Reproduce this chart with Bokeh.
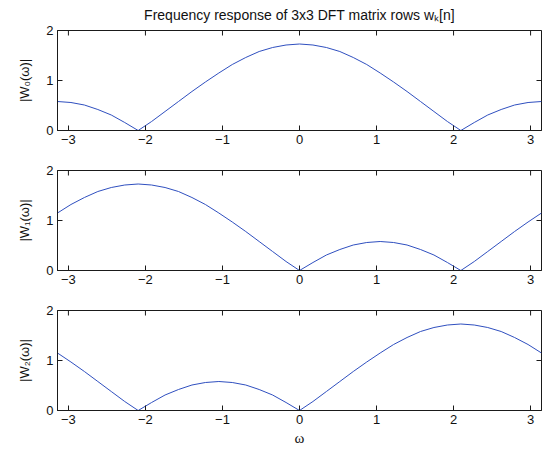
import numpy as np
from bokeh.plotting import figure
from bokeh.layouts import column
from bokeh.models import Range1d, FixedTicker
from bokeh.embed import file_html
from bokeh.resources import INLINE

# ---- data ----
omega = [-3.1416, -2.9671, -2.7925, -2.6180, -2.4435, -2.2689, -2.0944, -1.9199,
         -1.7453, -1.5708, -1.3963, -1.2217, -1.0472, -0.8727, -0.6981, -0.5236,
         -0.3491, -0.1745, 0.0, 0.1745, 0.3491, 0.5236, 0.6981, 0.8727, 1.0472,
         1.2217, 1.3963, 1.5708, 1.7453, 1.9199, 2.0944, 2.2689, 2.4435, 2.6180,
         2.7925, 2.9671, 3.1416]
W0 = [0.58, 0.56, 0.51, 0.42, 0.31, 0.16, 0.00, 0.18, 0.38, 0.58, 0.78, 0.97,
      1.15, 1.32, 1.46, 1.58, 1.66, 1.71, 1.73, 1.71, 1.66, 1.58, 1.46, 1.32,
      1.15, 0.97, 0.78, 0.58, 0.38, 0.18, 0.00, 0.16, 0.31, 0.42, 0.51, 0.56, 0.58]
W1 = [1.15, 1.32, 1.46, 1.58, 1.66, 1.71, 1.73, 1.71, 1.66, 1.58, 1.46, 1.32,
      1.15, 0.97, 0.78, 0.58, 0.38, 0.18, 0.00, 0.16, 0.31, 0.42, 0.51, 0.56,
      0.58, 0.56, 0.51, 0.42, 0.31, 0.16, 0.00, 0.18, 0.38, 0.58, 0.78, 0.97, 1.15]
W2 = [1.15, 0.97, 0.78, 0.58, 0.38, 0.18, 0.00, 0.16, 0.31, 0.42, 0.51, 0.56,
      0.58, 0.56, 0.51, 0.42, 0.31, 0.16, 0.00, 0.18, 0.38, 0.58, 0.78, 0.97,
      1.15, 1.32, 1.46, 1.58, 1.66, 1.71, 1.73, 1.71, 1.66, 1.58, 1.46, 1.32, 1.15]

x_ticks = [-3, -2, -1, 0, 1, 2, 3]
x_tick_labels = ["\u22123", "\u22122", "\u22121", "0", "1", "2", "3"]
y_ticks = [0, 1, 2]
y_labels = ["|W\u2080(\u03c9)|", "|W\u2081(\u03c9)|", "|W\u2082(\u03c9)|"]
title_text = "Frequency response of 3x3 DFT matrix rows w\u2096[n]"
x_label = "\u03c9"

FONT = "Liberation Sans"
AX = "#1a1a1a"
LINE = "#2f4fbf"
XMIN, XMAX = -np.pi, np.pi
YMIN, YMAX = 0, 2


def make(h, top, bottom, ydata, ylab, xlab=None, title=None):
    p = figure(width=543, height=h, output_backend="svg", toolbar_location=None,
               x_range=Range1d(XMIN, XMAX), y_range=Range1d(YMIN, YMAX),
               min_border_left=57, min_border_right=2,
               min_border_top=top, min_border_bottom=bottom)
    p.xgrid.visible = False
    p.ygrid.visible = False
    p.outline_line_color = AX
    p.outline_line_width = 1
    p.background_fill_color = "white"
    p.border_fill_color = "white"

    for ax, ticks in ((p.xaxis[0], x_ticks), (p.yaxis[0], y_ticks)):
        ax.ticker = FixedTicker(ticks=ticks)
        ax.major_tick_in = 5
        ax.major_tick_out = 0
        ax.minor_tick_in = 0
        ax.minor_tick_out = 0
        ax.axis_line_color = AX
        ax.major_tick_line_color = AX
        ax.major_label_text_font = FONT
        ax.major_label_text_font_size = "13px"
        ax.major_label_text_color = "#111111"
        ax.major_label_standoff = 4
    p.xaxis[0].major_label_overrides = {t: s for t, s in zip(x_ticks, x_tick_labels)}

    p.yaxis[0].axis_label = ylab
    p.yaxis[0].axis_label_text_font = FONT
    p.yaxis[0].axis_label_text_font_size = "13px"
    p.yaxis[0].axis_label_text_font_style = "normal"
    p.yaxis[0].axis_label_text_color = "#111111"
    p.yaxis[0].axis_label_standoff = 11

    if xlab:
        p.xaxis[0].axis_label = xlab
        p.xaxis[0].axis_label_text_font = "Liberation Serif"
        p.xaxis[0].axis_label_text_font_size = "15px"
        p.xaxis[0].axis_label_text_font_style = "normal"
        p.xaxis[0].axis_label_text_color = "#111111"
        p.xaxis[0].axis_label_standoff = 3

    # mirrored inward ticks on the top and right edges (dash markers clipped by the frame)
    p.scatter(x=x_ticks, y=[YMAX] * len(x_ticks), marker="dash", angle=np.pi / 2,
              size=10, line_color=AX, line_width=1)
    p.scatter(x=[XMAX] * len(y_ticks), y=y_ticks, marker="dash",
              size=10, line_color=AX, line_width=1)

    if title:
        p.title.text = title
        p.title.align = "center"
        p.title.vertical_align = "top"
        p.title.text_font = FONT
        p.title.text_font_size = "14px"
        p.title.text_font_style = "normal"
        p.title.text_color = "#111111"
        p.title.standoff = 12

    p.line(omega, ydata, line_color=LINE, line_width=1)
    return p


p1 = make(150, 30, 20, W0, y_labels[0], title=title_text)
p2 = make(140, 20, 20, W1, y_labels[1])
p3 = make(160, 20, 40, W2, y_labels[2], xlab=x_label)

p = column(p1, p2, p3, spacing=0)
open("out.html", "w").write(file_html(p, INLINE))
